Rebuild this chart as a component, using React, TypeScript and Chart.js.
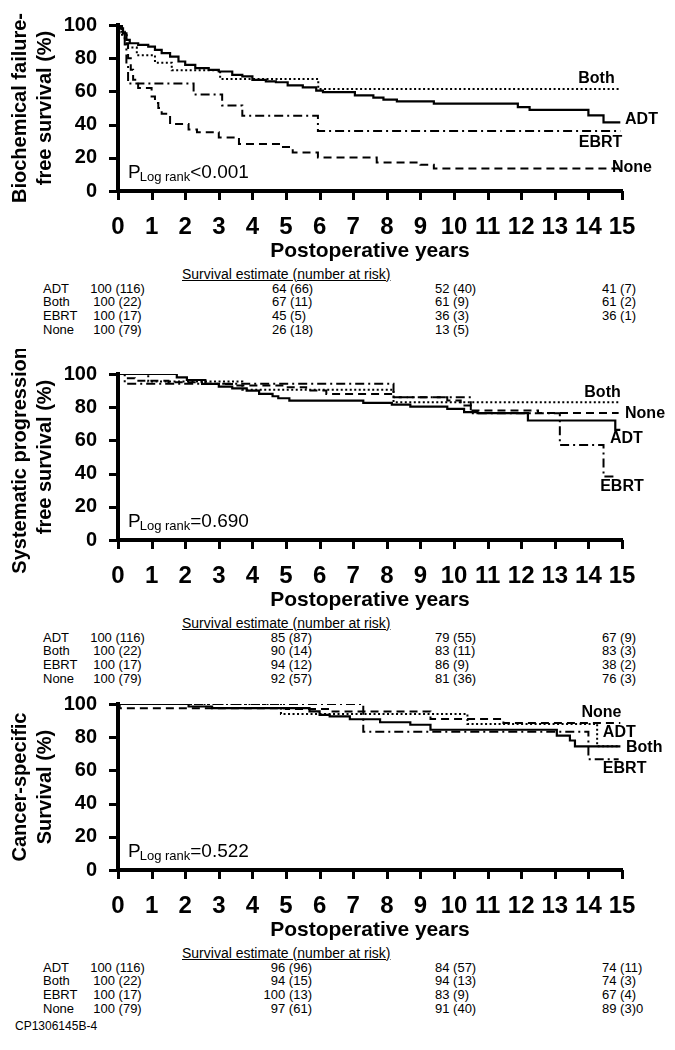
import React, { useEffect, useRef } from "react";
import { Chart, registerables } from "chart.js";

Chart.register(...registerables);

type Pt = [number, number];
type EndLabel = { text: string; x: number; y: number; align: "left" | "center" | "right" };

const FONT = "'Liberation Sans', Arial, Helvetica, sans-serif";

// ---------- shared text / ticks ----------
const yearTicks = [0, 1, 2, 3, 4, 5, 6, 7, 8, 9, 10, 11, 12, 13, 14, 15];
const percentTicks = [0, 20, 40, 60, 80, 100];
const groups = ["ADT", "Both", "EBRT", "None"];
const xAxisTitle = "Postoperative years";
const tableHeader = "Survival estimate (number at risk)";
const figureCode = "CP1306145B-4";

// ---------- Panel 1: biochemical failure-free survival ----------
const bcfYTitle = ["Biochemical failure-", "free survival (%)"];
const bcfP = "<0.001";
const bcfADT: Pt[] = [[0, 100], [0.08, 98], [0.15, 95], [0.25, 91], [0.35, 89], [0.6, 88], [0.9, 87], [1.1, 85], [1.3, 83], [1.55, 81], [1.8, 78], [2.0, 76], [2.3, 74], [2.7, 73], [3.0, 72], [3.4, 70], [3.7, 69], [4.0, 67], [4.4, 66], [4.7, 65.5], [5.05, 63.6], [5.5, 62.4], [5.9, 60.5], [6.1, 59.6], [7.05, 57.6], [7.6, 56.2], [7.9, 55], [8.3, 54], [9.4, 52.6], [11.9, 50.5], [12.25, 48.9], [14.0, 45.5], [14.45, 41.4], [14.95, 41.4]];
const bcfBoth: Pt[] = [[0, 100], [0.1, 95.5], [0.26, 86.4], [0.56, 81.8], [1.1, 77.3], [1.6, 72.7], [3.04, 67.5], [5.96, 61.5], [14.95, 61.5]];
const bcfEBRT: Pt[] = [[0, 100], [0.12, 94.1], [0.2, 88.2], [0.25, 76.5], [0.3, 64.7], [2.25, 58.2], [3.1, 51.5], [3.7, 45.3], [5.95, 36.2], [14.95, 36.2]];
const bcfNone: Pt[] = [[0, 100], [0.1, 96], [0.2, 89], [0.3, 80], [0.38, 73], [0.45, 67], [0.6, 62], [1.0, 57], [1.1, 53], [1.2, 50], [1.3, 46.5], [1.55, 40.4], [2.1, 37], [2.35, 35.4], [3.0, 32.3], [3.6, 28.3], [4.85, 26.5], [5.2, 23.2], [5.95, 20.2], [7.7, 17.2], [9.0, 15.8], [9.4, 13.5], [14.95, 13.5]];
const bcfEnd: EndLabel[] = [
  { text: "Both", x: 14.24, y: 67.5, align: "center" },
  { text: "ADT", x: 15.09, y: 42.8, align: "left" },
  { text: "EBRT", x: 14.36, y: 28.9, align: "center" },
  { text: "None", x: 14.7, y: 13.9, align: "left" },
];
const bcfTable = [
  ["100 (116)", "64 (66)", "52 (40)", "41 (7)"],
  ["100 (22)", "67 (11)", "61 (9)", "61 (2)"],
  ["100 (17)", "45 (5)", "36 (3)", "36 (1)"],
  ["100 (79)", "26 (18)", "13 (5)", ""],
];

// ---------- Panel 2: systematic progression-free survival ----------
const spYTitle = ["Systematic progression-", "free survival (%)"];
const spP = "=0.690";
const spADT: Pt[] = [[0, 100], [1.75, 98], [2.05, 96.4], [2.6, 94], [3.0, 92.4], [3.4, 91.4], [3.83, 90], [4.2, 88], [4.6, 86.6], [4.77, 85.4], [5.1, 84], [7.3, 82.6], [8.15, 81.6], [8.7, 80.4], [9.8, 79], [10.3, 77], [10.7, 76.4], [12.2, 72], [14.8, 66.4], [14.95, 66.4]];
const spBoth: Pt[] = [[0, 100], [0.9, 95.5], [3.7, 90.5], [8.2, 83], [14.95, 83]];
const spEBRT: Pt[] = [[0, 100], [0.2, 94.1], [8.2, 86], [10.5, 76.4], [13.15, 57.3], [14.45, 38.2], [14.75, 38.2]];
const spNone: Pt[] = [[0, 100], [0.2, 97.5], [0.5, 96], [1.5, 95], [2.5, 94], [3.5, 93], [5.0, 92], [5.6, 90], [6.2, 88], [8.2, 86], [9.8, 84], [10.2, 81], [10.5, 78], [12.5, 76.5], [14.9, 76.5]];
const spEnd: EndLabel[] = [
  { text: "Both", x: 14.42, y: 89, align: "center" },
  { text: "None", x: 15.09, y: 75.9, align: "left" },
  { text: "ADT", x: 14.64, y: 60.8, align: "left" },
  { text: "EBRT", x: 14.35, y: 31.9, align: "left" },
];
const spTable = [
  ["100 (116)", "85 (87)", "79 (55)", "67 (9)"],
  ["100 (22)", "90 (14)", "83 (11)", "83 (3)"],
  ["100 (17)", "94 (12)", "86 (9)", "38 (2)"],
  ["100 (79)", "92 (57)", "81 (36)", "76 (3)"],
];

// ---------- Panel 3: cancer-specific survival ----------
const cssYTitle = ["Cancer-specific", "Survival (%)"];
const cssP = "=0.522";
const cssADT: Pt[] = [[0, 100], [2.1, 98.5], [2.8, 97.5], [5.7, 95.5], [6.0, 93.5], [6.3, 92.5], [6.9, 90.8], [7.8, 89], [8.7, 87.5], [9.3, 84.5], [13.06, 81], [13.45, 78], [13.6, 74.5], [14.95, 74.5]];
const cssBoth: Pt[] = [[0, 100], [4.85, 94], [10.4, 88], [14.26, 74.5], [14.95, 74.5]];
const cssEBRT: Pt[] = [[0, 100], [7.3, 83.3], [14.0, 66.7], [14.9, 66.7]];
const cssNone: Pt[] = [[0, 100], [0.05, 97.5], [5.0, 97], [6.3, 95.5], [9.3, 91], [11.47, 88.5], [14.95, 88.5]];
const cssEnd: EndLabel[] = [
  { text: "None", x: 14.39, y: 94.6, align: "center" },
  { text: "ADT", x: 14.43, y: 82.5, align: "left" },
  { text: "Both", x: 15.12, y: 73.5, align: "left" },
  { text: "EBRT", x: 14.43, y: 60.8, align: "left" },
];
const cssTable = [
  ["100 (116)", "96 (96)", "84 (57)", "74 (11)"],
  ["100 (22)", "94 (15)", "94 (13)", "74 (3)"],
  ["100 (17)", "100 (13)", "83 (9)", "67 (4)"],
  ["100 (79)", "97 (61)", "91 (40)", "89 (3)0"],
];

// ---------- styles ----------
const DASH: number[][] = [[], [2, 2.5], [9, 4, 2, 4], [8, 5]];
const WIDTH = [2.2, 2, 2, 2];

type PanelCfg = {
  top: number;
  yTitle: string[];
  p: string;
  series: Pt[][];
  end: EndLabel[];
  table: string[][];
  col2Right: boolean;
};

const panels: PanelCfg[] = [
  { top: 0, yTitle: bcfYTitle, p: bcfP, series: [bcfADT, bcfBoth, bcfEBRT, bcfNone], end: bcfEnd, table: bcfTable, col2Right: false },
  { top: 349, yTitle: spYTitle, p: spP, series: [spADT, spBoth, spEBRT, spNone], end: spEnd, table: spTable, col2Right: true },
  { top: 679, yTitle: cssYTitle, p: cssP, series: [cssADT, cssBoth, cssEBRT, cssNone], end: cssEnd, table: cssTable, col2Right: true },
];

const CW = 675;
const CH = 266;
const TICK_LEN = 8;

function makeAnnot(p: string, end: EndLabel[]) {
  return {
    id: "kmAnnot",
    afterDraw(chart: any) {
      const { ctx, chartArea, scales } = chart;
      ctx.save();
      // axis tick marks (outward)
      ctx.strokeStyle = "#000";
      ctx.lineWidth = 3;
      ctx.lineCap = "butt";
      ctx.beginPath();
      yearTicks.forEach((v) => {
        const x = Math.round(scales.x.getPixelForValue(v)) + 0.5;
        ctx.moveTo(x, chartArea.bottom);
        ctx.lineTo(x, chartArea.bottom + TICK_LEN + 1);
      });
      percentTicks.forEach((v) => {
        const y = Math.round(scales.y.getPixelForValue(v)) + 0.5;
        ctx.moveTo(chartArea.left, y);
        ctx.lineTo(chartArea.left - TICK_LEN - 1, y);
      });
      ctx.stroke();

      ctx.fillStyle = "#000";
      ctx.textBaseline = "alphabetic";
      ctx.textAlign = "left";
      const x0 = chartArea.left + 10;
      const base = chartArea.bottom - 13.5;
      ctx.font = `19px ${FONT}`;
      ctx.fillText("P", x0, base);
      let x = x0 + ctx.measureText("P").width - 1;
      ctx.font = `13px ${FONT}`;
      ctx.fillText("Log rank", x, base + 3);
      x += ctx.measureText("Log rank").width;
      ctx.font = `19px ${FONT}`;
      ctx.fillText(p, x, base);
      ctx.font = `bold 16px ${FONT}`;
      ctx.textBaseline = "middle";
      end.forEach((l) => {
        ctx.textAlign = l.align;
        ctx.fillText(l.text, scales.x.getPixelForValue(l.x), scales.y.getPixelForValue(l.y));
      });
      ctx.restore();
    },
  };
}

function Panel({ cfg }: { cfg: PanelCfg }) {
  const ref = useRef<HTMLCanvasElement>(null);
  useEffect(() => {
    const canvas = ref.current;
    if (!canvas) return;
    const chart = new Chart(canvas, {
      type: "line",
      data: {
        datasets: cfg.series.map((s, i) => ({
          label: groups[i],
          data: s.map(([x, y]) => ({ x, y })),
          stepped: "before" as const,
          borderColor: "#000",
          borderWidth: WIDTH[i],
          borderDash: DASH[i],
          pointRadius: 0,
          fill: false,
        })),
      },
      options: {
        responsive: false,
        animation: false,
        events: [],
        layout: { autoPadding: false, padding: { left: 0, top: 25, right: 53, bottom: 0 } },
        plugins: { legend: { display: false }, tooltip: { enabled: false }, title: { display: false } },
        scales: {
          x: {
            type: "linear",
            min: 0,
            max: 15,
            afterBuildTicks: (s: any) => {
              s.ticks = yearTicks.map((v) => ({ value: v }));
            },
            afterFit: (s: any) => {
              s.height = 75;
              s.paddingLeft = 0;
              s.paddingRight = 0;
              s.paddingTop = 0;
              s.paddingBottom = 0;
            },
            ticks: {
              autoSkip: false,
              maxRotation: 0,
              padding: 21.6,
              color: "#000",
              font: { family: FONT, size: 24, weight: "bold", lineHeight: 1.2 },
              callback: (v: any) => String(v),
            },
            grid: { display: false, drawOnChartArea: false, drawTicks: false },
            border: { display: true, color: "#000", width: 4 },
            title: {
              display: true,
              text: xAxisTitle,
              color: "#000",
              font: { family: FONT, size: 21, weight: "bold", lineHeight: 1.2 },
              padding: { top: 0, bottom: 2.4 },
            },
          },
          y: {
            type: "linear",
            min: 0,
            max: 100,
            afterBuildTicks: (s: any) => {
              s.ticks = percentTicks.map((v) => ({ value: v }));
            },
            afterFit: (s: any) => {
              s.width = 118;
              s.paddingTop = 0;
              s.paddingBottom = 0;
              s.paddingLeft = 0;
              s.paddingRight = 0;
            },
            ticks: {
              padding: 21,
              color: "#000",
              font: { family: FONT, size: 20, weight: "bold", lineHeight: 1.2 },
              callback: (v: any) => String(v),
            },
            grid: { display: false, drawOnChartArea: false, drawTicks: false },
            border: { display: true, color: "#000", width: 4 },
            title: {
              display: true,
              text: cfg.yTitle,
              color: "#000",
              font: { family: FONT, size: 20, weight: "bold", lineHeight: 1.25 },
              padding: { top: 7.5, bottom: 0 },
            },
          },
        },
      } as any,
      plugins: [makeAnnot(cfg.p, cfg.end)],
    });
    return () => chart.destroy();
  }, []);

  const rowY = [289, 302.2, 315.6, 329.6];
  const cellStyle = (top: number): React.CSSProperties => ({
    position: "absolute",
    top: cfg.top + top - 7,
    fontFamily: FONT,
    fontSize: 13,
    lineHeight: "14px",
    color: "#000",
    whiteSpace: "nowrap",
  });

  return (
    <>
      <canvas
        ref={ref}
        width={CW}
        height={CH}
        style={{ position: "absolute", left: 0, top: cfg.top, width: CW, height: CH, display: "block" }}
      />
      <div
        style={{
          position: "absolute",
          left: 182,
          top: cfg.top + 273.5 - 8,
          fontFamily: FONT,
          fontSize: 14,
          lineHeight: "16px",
          color: "#000",
          textDecoration: "underline",
          whiteSpace: "nowrap",
        }}
      >
        {tableHeader}
      </div>
      {groups.map((g, r) => (
        <React.Fragment key={g}>
          <div style={{ ...cellStyle(rowY[r]), left: 43 }}>{g}</div>
          <div style={{ ...cellStyle(rowY[r]), left: 77.5, width: 80, textAlign: "center" }}>{cfg.table[r][0]}</div>
          {cfg.col2Right ? (
            <div style={{ ...cellStyle(rowY[r]), left: 212, width: 100, textAlign: "right" }}>{cfg.table[r][1]}</div>
          ) : (
            <div style={{ ...cellStyle(rowY[r]), left: 272 }}>{cfg.table[r][1]}</div>
          )}
          <div style={{ ...cellStyle(rowY[r]), left: 435 }}>{cfg.table[r][2]}</div>
          <div style={{ ...cellStyle(rowY[r]), left: 602 }}>{cfg.table[r][3]}</div>
        </React.Fragment>
      ))}
    </>
  );
}

export default function App() {
  return (
    <div style={{ position: "absolute", left: 0, top: 0, width: 675, height: 1050, background: "#fff", overflow: "hidden" }}>
      {panels.map((p, i) => (
        <Panel key={i} cfg={p} />
      ))}
      <div
        style={{
          position: "absolute",
          left: 15,
          top: 1019,
          fontFamily: FONT,
          fontSize: 12,
          lineHeight: "14px",
          color: "#000",
          whiteSpace: "nowrap",
        }}
      >
        {figureCode}
      </div>
    </div>
  );
}
